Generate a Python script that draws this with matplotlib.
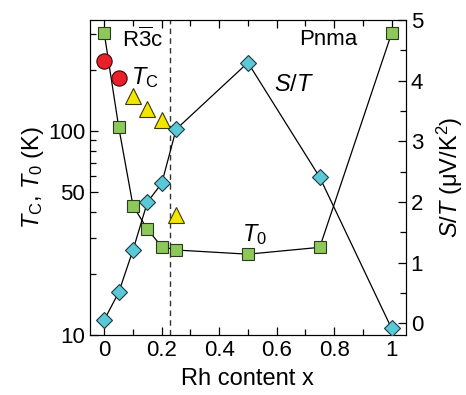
import numpy as np
import matplotlib
matplotlib.use('Agg')
from matplotlib import pyplot as plt
from matplotlib.ticker import FixedLocator, FixedFormatter, NullFormatter, MultipleLocator

plt.rcParams['font.family'] = ['Liberation Sans', 'DejaVu Sans']
plt.rcParams['mathtext.fontset'] = 'custom'
plt.rcParams['mathtext.rm'] = 'Liberation Sans'
plt.rcParams['mathtext.it'] = 'Liberation Sans:italic'

# data
x_t0 = [0, 0.05, 0.1, 0.15, 0.2, 0.25, 0.5, 0.75, 1.0]
t0 = [301, 105, 43, 33, 27.1, 26.1, 24.9, 26.9, 301]

x_st = [0, 0.05, 0.1, 0.15, 0.2, 0.25, 0.5, 0.75, 1.0]
s_over_t = [0.06, 0.51, 1.21, 2.0, 2.31, 3.2, 4.3, 2.41, -0.08]

x_tc_circ = [0, 0.05]
tc_circ = [220, 183]
x_tc_tri = [0.1, 0.15, 0.2, 0.25]
tc_tri = [149, 129, 113, 38.7]

x_boundary = 0.23

fig = plt.figure(figsize=(4.66, 3.95), dpi=100)
ax = fig.add_axes([0.193, 0.152, 0.678, 0.797])
ax2 = ax.twinx()

# left axis: T0 and TC
ax.plot(x_t0, t0, color='black', lw=0.9, marker='s', ms=8,
        mfc='#8dc85a', mec='#2b3a1e', mew=0.8, zorder=3)
ax.plot(x_tc_circ, tc_circ, ls='none', marker='o', ms=11,
        mfc='#e8202a', mec='#3a0a0a', mew=0.8, zorder=4)
ax.plot(x_tc_tri, tc_tri, ls='none', marker='^', ms=11,
        mfc='#f5e600', mec='#3a3a00', mew=0.8, zorder=4)
ax.axvline(x_boundary, color='#333333', ls=(0, (4, 3)), lw=1.0, zorder=1)

ax.set_yscale('log')
ax.set_ylim(10, 350)
ax.set_xlim(-0.05, 1.05)
ax.yaxis.set_major_locator(FixedLocator([10, 50, 100]))
ax.yaxis.set_major_formatter(FixedFormatter(['10', '50', '100']))
minor = [20, 30, 40, 60, 70, 80, 90, 200, 300]
ax.yaxis.set_minor_locator(FixedLocator(minor))
ax.yaxis.set_minor_formatter(NullFormatter())
ax.xaxis.set_major_locator(FixedLocator([0, 0.2, 0.4, 0.6, 0.8, 1.0]))
ax.xaxis.set_major_formatter(FixedFormatter(['0', '0.2', '0.4', '0.6', '0.8', '1']))
ax.xaxis.set_minor_locator(MultipleLocator(0.1))
ax.tick_params(which='both', direction='in', top=True, labelsize=16)
ax.tick_params(which='major', length=6, width=0.9)
ax.tick_params(which='minor', length=4, width=0.9)
ax.set_xlabel('Rh content x', fontsize=17, labelpad=5)
ax.set_ylabel(r'$T_\mathrm{C}$, $T_0$ (K)', fontsize=17, labelpad=1)

# right axis: S/T
ax2.plot(x_st, s_over_t, color='black', lw=0.9, marker='D', ms=8,
         mfc='#5bc8d8', mec='#1c3a40', mew=0.8, zorder=3)
ax2.set_ylim(-0.19, 5)
ax2.yaxis.set_major_locator(MultipleLocator(1))
ax2.yaxis.set_minor_locator(MultipleLocator(0.5))
ax2.tick_params(which='both', direction='in', labelsize=16)
ax2.tick_params(which='major', length=6, width=0.9)
ax2.tick_params(which='minor', length=4, width=0.9)
ax2.set_ylabel(r'$S/T$ ($\mathrm{\mu}$V/K$^2$)', fontsize=17, labelpad=8)

# annotations
ax.text(0.06, 282, r'R$\overline{3}$c', fontsize=16, va='center', ha='left')
ax.text(0.68, 282, 'Pnma', fontsize=16, va='center', ha='left')
ax.text(0.094, 184, r'$T_\mathrm{C}$', fontsize=17, va='center', ha='left')
ax.text(0.478, 31, r'$T_0$', fontsize=17, va='center', ha='left')
ax2.text(0.59, 3.93, r'$S/T$', fontsize=17, va='center', ha='left')

fig.savefig('out.png', dpi=100)
